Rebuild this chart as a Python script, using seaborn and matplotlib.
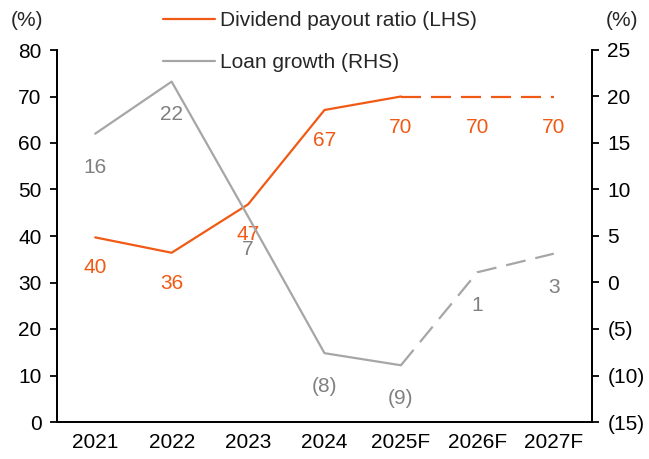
import numpy as np
import pandas as pd
import matplotlib
matplotlib.use("Agg")
import matplotlib.pyplot as plt
import seaborn as sns
from matplotlib.ticker import FixedLocator, FuncFormatter

# ---- data ----
categories = ["2021", "2022", "2023", "2024", "2025F", "2026F", "2027F"]
payout = [39.7, 36.4, 46.8, 67.1, 70.0, 70.0, 70.0]
payout_labels = ["40", "36", "47", "67", "70", "70", "70"]
loan_growth = [16.0, 21.6, 7.1, -7.6, -8.9, 1.1, 3.1]
loan_labels = ["16", "22", "7", "(8)", "(9)", "1", "3"]
n_actual = 5  # solid through 2025F, dashed afterwards

left_ticks = [0, 10, 20, 30, 40, 50, 60, 70, 80]
right_ticks = [-15, -10, -5, 0, 5, 10, 15, 20, 25]

ORANGE = "#F15A14"
GRAY = "#A6A6A6"
GRAY_TXT = "#808080"
FS = 15

sns.set_theme(style="white")
plt.rcParams["font.family"] = ["Liberation Sans", "DejaVu Sans"]
plt.rcParams["font.size"] = FS

df = pd.DataFrame({"cat": categories, "x": np.arange(len(categories)),
                   "payout": payout, "loan": loan_growth})
solid = df.iloc[:n_actual]
dashed = df.iloc[n_actual - 1:]

fig = plt.figure(figsize=(6.49, 4.59), dpi=100)
ax = fig.add_axes([57 / 649, 1 - 422 / 459, (592 - 57) / 649, (422 - 50) / 459])
ax2 = ax.twinx()

lw = 1.6
sns.lineplot(data=solid, x="x", y="payout", ax=ax, color=ORANGE, lw=lw,
             label="Dividend payout ratio (LHS)", legend=False)
sns.lineplot(data=dashed, x="x", y="payout", ax=ax, color=ORANGE, lw=lw,
             legend=False).lines[-1].set_dashes((9, 4.5))
sns.lineplot(data=solid, x="x", y="loan", ax=ax2, color=GRAY, lw=lw,
             label="Loan growth (RHS)", legend=False)
sns.lineplot(data=dashed, x="x", y="loan", ax=ax2, color=GRAY, lw=lw,
             legend=False).lines[-1].set_dashes((9, 4.5))

for xi, v, t in zip(df["x"], payout, payout_labels):
    ax.annotate(t, (xi, v), xytext=(0, -22), textcoords="offset points",
                ha="center", va="center", color=ORANGE, fontsize=FS)
for xi, v, t in zip(df["x"], loan_growth, loan_labels):
    ax2.annotate(t, (xi, v), xytext=(0, -24), textcoords="offset points",
                 ha="center", va="center", color=GRAY_TXT, fontsize=FS)

ax.set_xlim(-0.5, len(categories) - 0.5)
ax.set_ylim(0, 80)
ax2.set_ylim(-15, 25)

ax.xaxis.set_major_locator(FixedLocator(np.arange(len(categories) + 1) - 0.5))
ax.xaxis.set_major_formatter(FuncFormatter(lambda v, p: ""))
ax.xaxis.set_minor_locator(FixedLocator(np.arange(len(categories))))
ax.set_xticklabels(categories, minor=True)
ax.tick_params(axis="x", which="minor", length=0, pad=8, labelsize=FS, colors="black")
ax.tick_params(axis="x", which="major", length=5, width=1.3, direction="out", color="black")

ax.set_yticks(left_ticks)
ax2.set_yticks(right_ticks)
ax2.yaxis.set_major_formatter(FuncFormatter(lambda v, p: f"({abs(int(v))})" if v < 0 else f"{int(v)}"))
ax.tick_params(axis="y", length=5, width=1.3, direction="out", pad=6, labelsize=FS, colors="black")
ax2.tick_params(axis="y", length=5, width=1.3, direction="out", pad=6, labelsize=FS, colors="black")

ax.set_xlabel("")
ax.set_ylabel("")
ax2.set_ylabel("")

for a in (ax, ax2):
    a.spines["top"].set_visible(False)
    for s in ("left", "right", "bottom"):
        a.spines[s].set_color("black")
        a.spines[s].set_linewidth(1.3)
    a.grid(False)

fig.text(27 / 649, 1 - 20 / 459, "(%)", ha="center", va="center", fontsize=FS)
fig.text(622 / 649, 1 - 20 / 459, "(%)", ha="center", va="center", fontsize=FS)

h1, l1 = ax.get_legend_handles_labels()
h2, l2 = ax2.get_legend_handles_labels()
leg = fig.legend(h1 + h2, l1 + l2, loc="upper left",
                 bbox_to_anchor=(163 / 649, 1 - 11 / 459), frameon=False,
                 fontsize=FS, handlelength=2.5, handletextpad=0.25,
                 labelspacing=1.1, borderpad=0, borderaxespad=0)

fig.savefig("out.png", dpi=100)
